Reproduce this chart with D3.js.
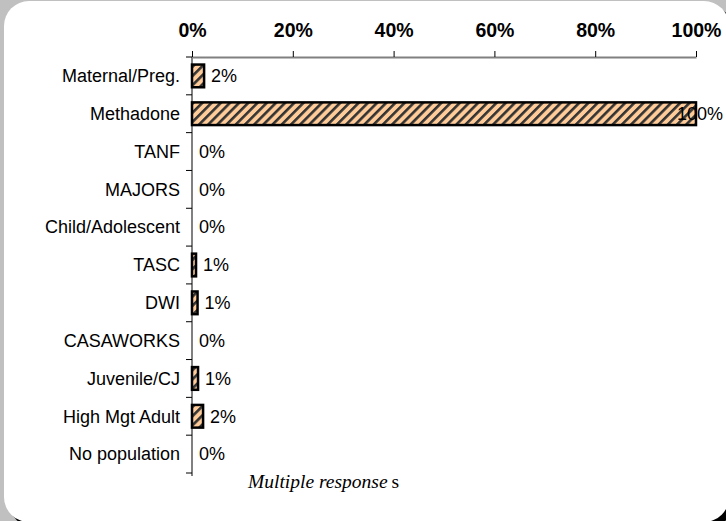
<!DOCTYPE html>
<html>
<head>
<meta charset="utf-8" />
<title>Multiple responses</title>
<style>
  html, body { margin: 0; padding: 0; background: #c0c0c0; }
  svg { display: block; }
</style>
</head>
<body>
<div class="canvas"></div>
<script src="https://d3js.org/d3.v7.min.js"></script>
<script>
var categories = ["Maternal/Preg.", "Methadone", "TANF", "MAJORS", "Child/Adolescent",
                  "TASC", "DWI", "CASAWORKS", "Juvenile/CJ", "High Mgt Adult", "No population"];
var values = [2.4, 100, 0, 0, 0, 0.8, 1.1, 0, 1.2, 2.2, 0];
var labels = ["2%", "100%", "0%", "0%", "0%", "1%", "1%", "0%", "1%", "2%", "0%"];
var tickValues = [0, 20, 40, 60, 80, 100];

var width = 726, height = 521;
var plotLeft = 192, plotRight = 696, plotTop = 57, plotBottom = 473;

var svg = d3.select(".canvas").append("svg")
    .attr("width", width)
    .attr("height", height);

// pattern for the bars
var defs = svg.append("defs");
var pat = defs.append("pattern")
    .attr("id", "stripes")
    .attr("patternUnits", "userSpaceOnUse")
    .attr("width", 6.5)
    .attr("height", 6.5)
    .attr("patternTransform", "rotate(45)");
pat.append("rect").attr("width", 6.5).attr("height", 6.5).attr("fill", "#ffcc99");
pat.append("rect").attr("x", 0).attr("width", 2.6).attr("height", 6.5).attr("fill", "#333");

// background panel with shadow
svg.append("rect")
    .attr("x", 9).attr("y", 6).attr("width", 725).attr("height", 521)
    .attr("rx", 25).attr("fill", "#000");
svg.append("rect")
    .attr("x", 4).attr("y", 1).attr("width", 725).attr("height", 521)
    .attr("rx", 25).attr("fill", "#fff");

var rows = categories.map(function(c, i){ return {cat: c, value: values[i], label: labels[i]}; });

var x = d3.scaleLinear().domain([0, 100]).range([plotLeft, plotRight]);
var y = d3.scaleBand().domain(categories).range([plotTop, plotBottom]).paddingInner(0.4).paddingOuter(0.2);
var yb = d3.scaleBand().domain(categories).range([plotTop, plotBottom]);

var sans = "'Liberation Sans', Arial, sans-serif";

// top axis
var xAxis = svg.append("g")
    .attr("transform", "translate(0," + plotTop + ")")
    .call(d3.axisTop(x).tickValues(tickValues).tickFormat(function(d){ return d + "%"; })
        .tickSizeInner(6).tickSizeOuter(0).tickPadding(14));
xAxis.select(".domain").attr("stroke", "#808080").attr("stroke-width", 2);
xAxis.selectAll(".tick line").attr("stroke", "#000");
xAxis.selectAll(".tick text")
    .attr("font-family", sans)
    .attr("font-size", 19.5)
    .attr("font-weight", "bold")
    .attr("fill", "#000");

// left axis line + ticks at band boundaries
svg.append("line")
    .attr("x1", plotLeft).attr("x2", plotLeft)
    .attr("y1", plotTop).attr("y2", plotBottom + 3)
    .attr("stroke", "#808080").attr("stroke-width", 2);
svg.selectAll(".ytick")
    .data(d3.range(categories.length + 1))
    .enter().append("line")
    .attr("class", "ytick")
    .attr("x1", plotLeft - 6).attr("x2", plotLeft)
    .attr("y1", function(i){ return plotTop + i * yb.step(); })
    .attr("y2", function(i){ return plotTop + i * yb.step(); })
    .attr("stroke", "#000");

// category labels
svg.selectAll(".cat")
    .data(rows)
    .enter().append("text")
    .attr("class", "cat")
    .attr("x", plotLeft - 12)
    .attr("y", function(d){ return yb(d.cat) + yb.bandwidth() / 2; })
    .attr("dy", "0.35em")
    .attr("text-anchor", "end")
    .attr("font-family", sans)
    .attr("font-size", 18)
    .attr("fill", "#000")
    .text(function(d){ return d.cat; });

// bars
svg.selectAll(".bar")
    .data(rows.filter(function(d){ return d.value > 0; }))
    .enter().append("rect")
    .attr("class", "bar")
    .attr("x", x(0))
    .attr("y", function(d){ return y(d.cat); })
    .attr("width", function(d){ return x(d.value) - x(0); })
    .attr("height", y.bandwidth())
    .attr("fill", "url(#stripes)")
    .attr("stroke", "#000")
    .attr("stroke-width", 2.5);

// value labels
svg.selectAll(".val")
    .data(rows)
    .enter().append("text")
    .attr("class", "val")
    .attr("x", function(d){ return Math.min(x(d.value) + 7, 677); })
    .attr("y", function(d){ return yb(d.cat) + yb.bandwidth() / 2; })
    .attr("dy", "0.35em")
    .attr("font-family", sans)
    .attr("font-size", 18)
    .attr("fill", "#000")
    .text(function(d){ return d.label; });

// footnote
svg.append("text")
    .attr("x", 248)
    .attr("y", 488)
    .attr("font-family", "'Liberation Serif', 'Times New Roman', serif")
    .attr("font-style", "italic")
    .attr("font-size", 19.5)
    .attr("fill", "#000")
    .text("Multiple response")
    .append("tspan")
    .attr("font-style", "normal")
    .attr("dx", 4)
    .text("s");
</script>
</body>
</html>
